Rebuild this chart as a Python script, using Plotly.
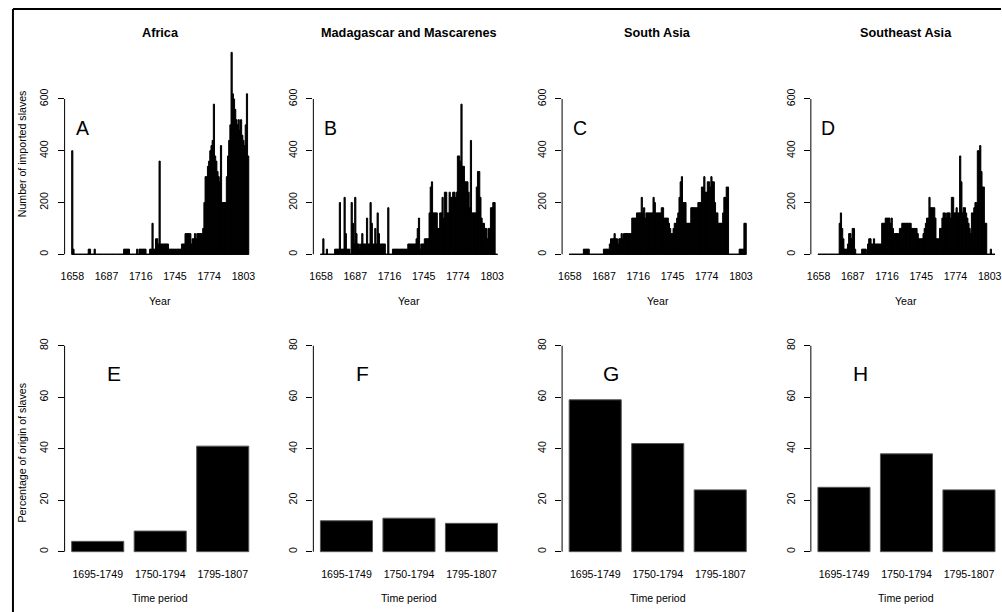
import plotly.graph_objects as go

# ---- data ---------------------------------------------------------------
years = list(range(1658, 1808))
year_ticks = [1658, 1687, 1716, 1745, 1774, 1803]
count_ticks = [0, 200, 400, 600]

# yearly number of imported slaves, 1658-1807 (ten years per row)
africa_counts = [
    400, 20, 0, 0, 0, 0, 0, 0, 0, 0,
    0, 0, 0, 0, 20, 20, 0, 0, 0, 20,
    0, 0, 0, 0, 0, 0, 0, 0, 0, 0,
    0, 0, 0, 0, 0, 0, 0, 0, 0, 0,
    0, 0, 0, 0, 20, 20, 20, 20, 20, 0,
    0, 0, 0, 0, 0, 20, 0, 20, 20, 20,
    20, 20, 20, 0, 0, 0, 20, 20, 120, 20,
    20, 60, 60, 40, 360, 40, 40, 40, 40, 40,
    40, 40, 20, 20, 20, 20, 20, 20, 20, 20,
    20, 20, 20, 40, 40, 40, 80, 80, 80, 80,
    80, 40, 60, 60, 80, 60, 80, 80, 80, 80,
    80, 100, 200, 300, 300, 340, 360, 400, 420, 440,
    580, 380, 360, 320, 300, 280, 420, 200, 200, 200,
    200, 300, 380, 440, 500, 780, 620, 600, 560, 520,
    500, 520, 480, 520, 460, 440, 420, 500, 620, 380,
]
madagascar_counts = [
    0, 0, 60, 0, 0, 20, 0, 0, 0, 0,
    0, 0, 20, 20, 20, 20, 200, 20, 20, 20,
    220, 80, 20, 20, 20, 0, 200, 120, 40, 220,
    80, 40, 40, 20, 40, 80, 40, 40, 40, 140,
    40, 40, 200, 120, 40, 40, 100, 40, 160, 80,
    40, 40, 40, 40, 40, 0, 0, 180, 0, 0,
    0, 20, 20, 20, 20, 20, 20, 20, 20, 20,
    20, 20, 20, 20, 40, 40, 40, 40, 40, 40,
    40, 60, 100, 140, 20, 40, 40, 40, 60, 60,
    60, 60, 160, 260, 280, 160, 160, 160, 160, 100,
    100, 160, 160, 220, 140, 240, 240, 160, 160, 240,
    220, 220, 240, 240, 220, 240, 380, 380, 360, 580,
    340, 340, 280, 280, 280, 240, 180, 440, 160, 160,
    160, 160, 260, 320, 320, 220, 140, 120, 120, 100,
    100, 60, 100, 100, 180, 180, 200, 200, 0, 0,
]
south_asia_counts = [
    0, 0, 0, 0, 0, 0, 0, 0, 0, 0,
    0, 0, 20, 20, 20, 20, 20, 0, 0, 0,
    0, 0, 0, 0, 0, 0, 0, 0, 0, 20,
    20, 20, 20, 20, 40, 60, 60, 60, 80, 60,
    60, 40, 60, 60, 80, 60, 80, 80, 80, 80,
    80, 80, 80, 140, 140, 140, 140, 160, 160, 160,
    160, 220, 160, 180, 140, 160, 160, 160, 160, 160,
    160, 220, 200, 160, 160, 160, 160, 160, 180, 180,
    140, 140, 140, 140, 120, 100, 80, 80, 100, 120,
    120, 140, 160, 220, 280, 300, 200, 200, 200, 120,
    120, 120, 120, 180, 180, 180, 180, 180, 180, 200,
    200, 200, 260, 260, 300, 240, 240, 280, 280, 260,
    300, 280, 280, 200, 160, 160, 120, 120, 120, 120,
    160, 220, 220, 260, 260, 0, 0, 0, 0, 0,
    0, 0, 0, 0, 20, 20, 20, 20, 120, 120,
]
southeast_asia_counts = [
    0, 0, 0, 0, 0, 0, 0, 0, 0, 0,
    0, 0, 0, 0, 0, 0, 0, 0, 120, 160,
    100, 60, 20, 20, 20, 40, 80, 80, 60, 100,
    100, 20, 0, 0, 0, 0, 0, 20, 20, 20,
    20, 0, 40, 60, 60, 40, 40, 60, 40, 40,
    40, 40, 40, 40, 120, 120, 120, 140, 140, 140,
    140, 120, 140, 100, 80, 80, 80, 80, 80, 100,
    100, 120, 120, 120, 120, 120, 120, 120, 120, 100,
    100, 100, 100, 100, 80, 60, 60, 60, 60, 80,
    100, 120, 140, 140, 220, 180, 180, 180, 180, 140,
    60, 60, 60, 100, 100, 140, 160, 160, 140, 160,
    160, 160, 140, 220, 220, 160, 160, 180, 160, 160,
    380, 280, 160, 180, 180, 160, 140, 120, 100, 80,
    160, 160, 180, 200, 200, 400, 400, 420, 320, 260,
    260, 120, 120, 0, 0, 0, 20, 0, 0, 0,
]

# share of slaves by origin per period (%)
periods = ["1695-1749", "1750-1794", "1795-1807"]
pct_ticks = [0, 20, 40, 60, 80]
africa_pct = [4, 8, 41]
madagascar_pct = [12, 13, 11]
south_asia_pct = [59, 42, 24]
southeast_asia_pct = [25, 38, 24]

regions = ["Africa", "Madagascar and Mascarenes", "South Asia", "Southeast Asia"]
top_letters = ["A", "B", "C", "D"]
bottom_letters = ["E", "F", "G", "H"]

yearly = [africa_counts, madagascar_counts, south_asia_counts, southeast_asia_counts]
shares = [africa_pct, madagascar_pct, south_asia_pct, southeast_asia_pct]

# ---- page geometry (pixels) -------------------------------------------
W, H = 1002, 612
FONT = "Liberation Sans, Arial, Helvetica, sans-serif"
PANEL_LEFT, PANEL_W, PANEL_STEP = 60.9, 192.2, 250
TOP_ROW = (44.3, 262.4)       # top / bottom pixel of the upper plot regions
BOTTOM_ROW = (337.5, 559.9)   # top / bottom pixel of the lower plot regions


def fx(px):
    return px / W


def fy(px):
    return 1 - px / H


def pad4(lo, hi):
    span = hi - lo
    return [lo - 0.04 * span, hi + 0.04 * span]


def clipped(x0, rng):
    """Horizontal domain and range of a panel, trimmed at the page edge."""
    x1 = x0 + PANEL_W
    if x1 <= W:
        return [fx(x0), fx(x1)], rng
    per_px = (rng[1] - rng[0]) / PANEL_W
    return [fx(x0), 1.0], [rng[0], rng[0] + (W - x0) * per_px]


def ax_ids(n):
    suffix = "" if n == 1 else str(n)
    return f"x{suffix}", f"y{suffix}", f"xaxis{suffix}", f"yaxis{suffix}"


count_max = max(max(c) for c in yearly)
count_range = pad4(0, count_max)
pct_range = pad4(0, pct_ticks[-1])
# barplot style: bars of width 1 separated by 0.2, expressed in category units
n_per = len(periods)
bar_lo, bar_hi = pad4(0.2, 1.2 * n_per)
cat_range = [(bar_lo - 0.7) / 1.2, (bar_hi - 0.7) / 1.2]
year_range = pad4(years[0] - 0.5, years[-1] + 0.5)

fig = go.Figure()
axis_font = dict(family=FONT, size=10.6, color="black")
shapes = []
annotations = []
axes = {}

for k in range(4):
    x0 = PANEL_LEFT + k * PANEL_STEP

    # --- upper panel: yearly imports
    xa, ya, xname, yname = ax_ids(k + 1)
    dom_top, rng_top = clipped(x0, year_range)
    fig.add_trace(go.Bar(
        x=years, y=yearly[k], width=1, xaxis=xa, yaxis=ya,
        marker=dict(color="black", line=dict(color="black", width=1)),
        hoverinfo="x+y", showlegend=False,
    ))
    fig.add_trace(go.Scatter(
        x=[years[0] - 0.5, years[-1] + 0.5], y=[0, 0], xaxis=xa, yaxis=ya,
        mode="lines", line=dict(color="black", width=1),
        hoverinfo="skip", showlegend=False,
    ))
    axes[xname] = dict(
        domain=dom_top, anchor=ya, range=rng_top, tickvals=year_ticks,
        ticks="", showline=False, showgrid=False, zeroline=False,
        tickfont=axis_font, ticklabelstandoff=6, ticklabeloverflow="allow",
    )
    axes[yname] = dict(
        domain=[fy(TOP_ROW[1]), fy(TOP_ROW[0])], anchor=xa, range=count_range,
        tickvals=count_ticks, ticks="outside", ticklen=6, tickcolor="black",
        tickangle=-90, showline=False, showgrid=False, zeroline=False,
        tickfont=axis_font, ticklabelstandoff=5,
    )
    shapes.append(dict(type="line", xref=f"{xa} domain", yref=ya,
                       x0=0, x1=0, y0=count_ticks[0], y1=count_ticks[-1],
                       line=dict(color="black", width=1)))

    # --- lower panel: share by period
    xb, yb, xname, yname = ax_ids(k + 5)
    dom_bot, rng_bot = clipped(x0, cat_range)
    fig.add_trace(go.Bar(
        x=periods, y=shares[k], width=1 / 1.2, xaxis=xb, yaxis=yb,
        marker=dict(color="black", line=dict(color="#555555", width=1)),
        hoverinfo="x+y", showlegend=False,
    ))
    axes[xname] = dict(
        domain=dom_bot, anchor=yb, type="category", range=rng_bot,
        ticks="", showline=False, showgrid=False, zeroline=False,
        tickfont=axis_font, ticklabelstandoff=6, ticklabeloverflow="allow",
    )
    axes[yname] = dict(
        domain=[fy(BOTTOM_ROW[1]), fy(BOTTOM_ROW[0])], anchor=xb, range=pct_range,
        tickvals=pct_ticks, ticks="outside", ticklen=6, tickcolor="black",
        tickangle=-90, showline=False, showgrid=False, zeroline=False,
        tickfont=axis_font, ticklabelstandoff=5,
    )
    shapes.append(dict(type="line", xref=f"{xb} domain", yref=yb,
                       x0=0, x1=0, y0=pct_ticks[0], y1=pct_ticks[-1],
                       line=dict(color="black", width=1)))

    cx = x0 + PANEL_W / 2
    annotations += [
        dict(text=f"<b>{regions[k]}</b>", x=fx(cx), y=fy(32.5),
             font=dict(family=FONT, size=12.7, color="black")),
        dict(text="Year", x=fx(cx), y=fy(300.5),
             font=dict(family=FONT, size=10.6, color="black")),
        dict(text="Time period", x=fx(cx), y=fy(598),
             font=dict(family=FONT, size=10.6, color="black")),
        dict(text=top_letters[k], x=fx(78.5 + k * PANEL_STEP), y=fy(128.3),
             font=dict(family=FONT, size=19.5, color="black")),
        dict(text=bottom_letters[k], x=fx(110.5 + k * PANEL_STEP), y=fy(373.3),
             font=dict(family=FONT, size=21, color="black")),
    ]

annotations += [
    dict(text="Number of imported slaves", x=fx(18), y=fy(153.3), textangle=-90,
         font=dict(family=FONT, size=10.6, color="black")),
    dict(text="Percentage of origin of slaves", x=fx(18), y=fy(452.7), textangle=-90,
         font=dict(family=FONT, size=10.6, color="black")),
]
for a in annotations:
    a.update(xref="paper", yref="paper", showarrow=False,
             xanchor="center", yanchor="middle")

# outer frame (left and top edges)
shapes += [
    dict(type="line", xref="paper", yref="paper", x0=fx(9), x1=fx(9),
         y0=0, y1=fy(9), line=dict(color="black", width=2)),
    dict(type="line", xref="paper", yref="paper", x0=fx(9), x1=1,
         y0=fy(9), y1=fy(9), line=dict(color="black", width=2)),
]

fig.update_layout(
    width=W, height=H, margin=dict(l=0, r=0, t=0, b=0),
    paper_bgcolor="white", plot_bgcolor="white",
    font=dict(family=FONT, color="black"),
    shapes=shapes, annotations=annotations, showlegend=False,
    **axes,
)

fig.write_html("out.html", config={"displayModeBar": False})
